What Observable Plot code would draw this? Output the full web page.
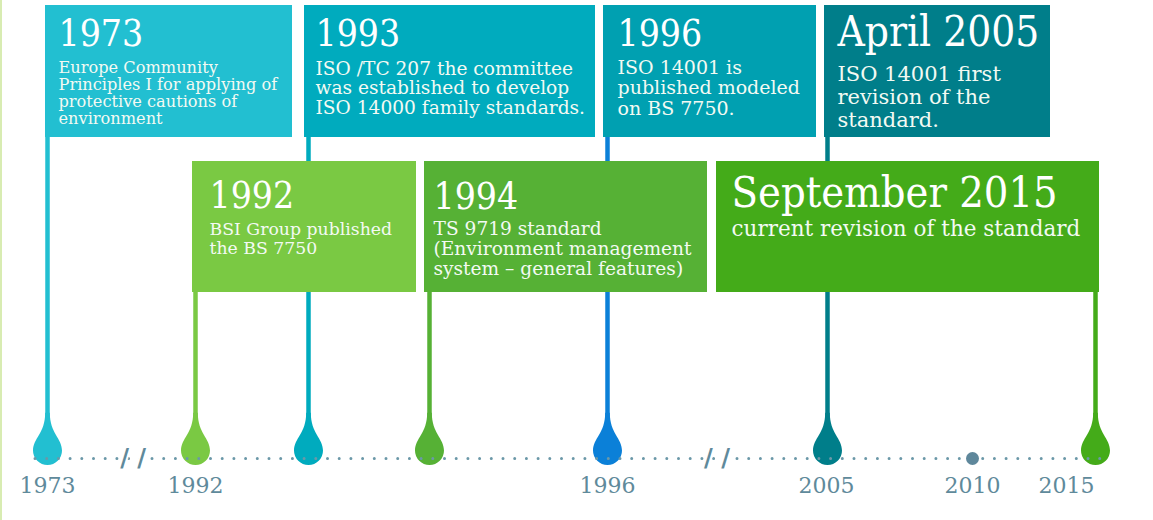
<!DOCTYPE html>
<html>
<head>
<meta charset="utf-8">
<script src="https://cdn.jsdelivr.net/npm/d3@7"></script>
<script src="https://cdn.jsdelivr.net/npm/@observablehq/plot@0.6"></script>
<style>
  html, body { margin: 0; padding: 0; background: #ffffff; }
  #chart { position: relative; width: 1153px; height: 520px; overflow: hidden; }
  #edge { position: absolute; left: 0; top: 0; width: 2px; height: 520px; background: #d8ecb2; z-index: 2; }
</style>
</head>
<body>
<div id="chart"><div id="edge"></div></div>
<script>
// ---------------- data ----------------
const eventTitles = ["1973", "1992", "1993", "1994", "1996", "April 2005", "September 2015"];
const eventDates = [1973, 1992, 1993, 1994, 1996, 2005.25, 2015.7];
const eventText = [
  ["Europe Community", "Principles I for applying of", "protective cautions of", "environment"],
  ["BSI Group published", "the BS 7750"],
  ["ISO /TC 207 the committee", "was established to develop", "ISO 14000 family standards."],
  ["TS 9719 standard", "(Environment management", "system \u2013 general features)"],
  ["ISO 14001 is", "published modeled", "on BS 7750."],
  ["ISO 14001 first", "revision of the", "standard."],
  ["current revision of the standard"]
];
const tickYears = [1973, 1992, 1996, 2005, 2010, 2015];
const tickLabels = ["1973", "1992", "1996", "2005", "2010", "2015"];
const markerYears = [2010];
const breakYears = [1984, 2000.5];

// broken (piecewise) timeline scale
const axisYears = [1973, 1992, 1993, 1994, 1996, 2005, 2005.25, 2010, 2015, 2015.7];
const axisPx    = [47, 195, 308, 429, 607, 826, 827, 972, 1066, 1095];

// ---------------- styles / layout ----------------
const boxColors  = ["#22bfd1", "#7ac943", "#00abbe", "#56b135", "#00a0b1", "#007e8a", "#44ab19"];
const stemColors = ["#22bfd1", "#7ac943", "#00abbe", "#56b135", "#0b80d8", "#007e8a", "#44ab19"];
const rows = [{top: 5, bottom: 137}, {top: 161, bottom: 292}];
const layout = [
  {row: 0, bl: -2,   br: 245, dx: 11,   hy: 45,  hs: 37, by: 72,  bs: 16.2, ls: 17},
  {row: 1, bl: -3,   br: 221, dx: 14,   hy: 207, hs: 37, by: 234, bs: 17.3, ls: 19},
  {row: 0, bl: -4,   br: 287, dx: 7,    hy: 45,  hs: 37, by: 74,  bs: 18.6, ls: 19.5},
  {row: 1, bl: -5,   br: 278, dx: 4,    hy: 208, hs: 37, by: 234, bs: 18.6, ls: 20},
  {row: 0, bl: -4,   br: 209, dx: 10,   hy: 45,  hs: 37, by: 73,  bs: 19, ls: 20.5},
  {row: 0, bl: -3,   br: 223, dx: 10,   hy: 45,  hs: 42, by: 80,  bs: 21, ls: 23},
  {row: 1, bl: -379, br: 4,   dx: -364, hy: 206, hs: 43, by: 235, bs: 21.5, ls: 20}
];
const headFont = "'DejaVu Serif Condensed', 'DejaVu Serif', serif";
const bodyFont = "'DejaVu Serif', serif";
const axisInk = "#5f8a9b";

const events = eventTitles.map((t, i) => ({title: t, date: eventDates[i], body: eventText[i].join("\n"), n: eventText[i].length}));

// teardrop symbol
const teardrop = {
  draw(ctx, size) {
    const r = Math.sqrt(size / Math.PI);
    const h = r * 2.6, w = r * 0.16;
    ctx.moveTo(-w, -h);
    ctx.bezierCurveTo(-w, -h * 0.45, -r, -r * 0.85, -r, 0);
    ctx.arc(0, 0, r, Math.PI, 0, true);
    ctx.bezierCurveTo(r, -r * 0.85, w, -h * 0.45, w, -h);
    ctx.closePath();
  }
};

const marks = [];
// stems
marks.push(Plot.ruleX(events, {
  x: "date",
  y1: (d, i) => rows[layout[i].row].top,
  y2: 425,
  stroke: (d, i) => stemColors[i],
  strokeWidth: 4.5
}));
// boxes + texts
events.forEach((d, i) => {
  const L = layout[i], R = rows[L.row];
  marks.push(Plot.rect([d], {
    x1: "date", x2: "date", y1: R.top, y2: R.bottom,
    insetLeft: L.bl, insetRight: -L.br,
    fill: boxColors[i]
  }));
  marks.push(Plot.text([d], {
    x: "date", y: L.hy, text: "title", dx: L.dx,
    textAnchor: "start", lineAnchor: "bottom",
    fontSize: L.hs, fontFamily: headFont, fontWeight: 300, fill: "#ffffff"
  }));
  marks.push(Plot.text([d], {
    x: "date", y: L.by + (d.n - 1) * L.ls, text: "body", dx: L.dx,
    textAnchor: "start", lineAnchor: "bottom", lineHeight: L.ls / L.bs,
    fontSize: L.bs, fontFamily: bodyFont, fill: "#f3faf3"
  }));
});
// drops
marks.push(Plot.dot(events, {
  x: "date", y: 450, r: 14.5, symbol: teardrop,
  fill: (d, i) => stemColors[i]
}));
// dotted axis
marks.push(Plot.ruleY([458], {
  insetLeft: 35, insetRight: 43,
  stroke: "#6b98a8", strokeWidth: 3, strokeDasharray: "0 11.7", strokeLinecap: "round"
}));
// break marks
marks.push(Plot.text(breakYears, {
  x: d => d, y: 458, text: () => "/ /",
  fontSize: 24, fontWeight: "bold", fontFamily: "'DejaVu Sans', sans-serif",
  fill: axisInk, stroke: "#ffffff", strokeWidth: 4
}));
// 2010 marker
marks.push(Plot.dot(markerYears, {x: d => d, y: 458, r: 6.5, fill: "#5e879b"}));
// tick labels
marks.push(Plot.text(tickYears, {
  x: d => d, y: 485, text: (d, i) => tickLabels[i],
  fontSize: 22, fontFamily: bodyFont, fill: axisInk
}));

const chart = Plot.plot({
  width: 1153,
  height: 520,
  margin: 0,
  x: {type: "linear", domain: axisYears, range: axisPx, axis: null},
  y: {type: "linear", domain: [0, 520], range: [0, 520], axis: null},
  color: {type: "identity"},
  style: {background: "#ffffff", overflow: "visible"},
  marks
});
document.getElementById("chart").appendChild(chart);
</script>
</body>
</html>
